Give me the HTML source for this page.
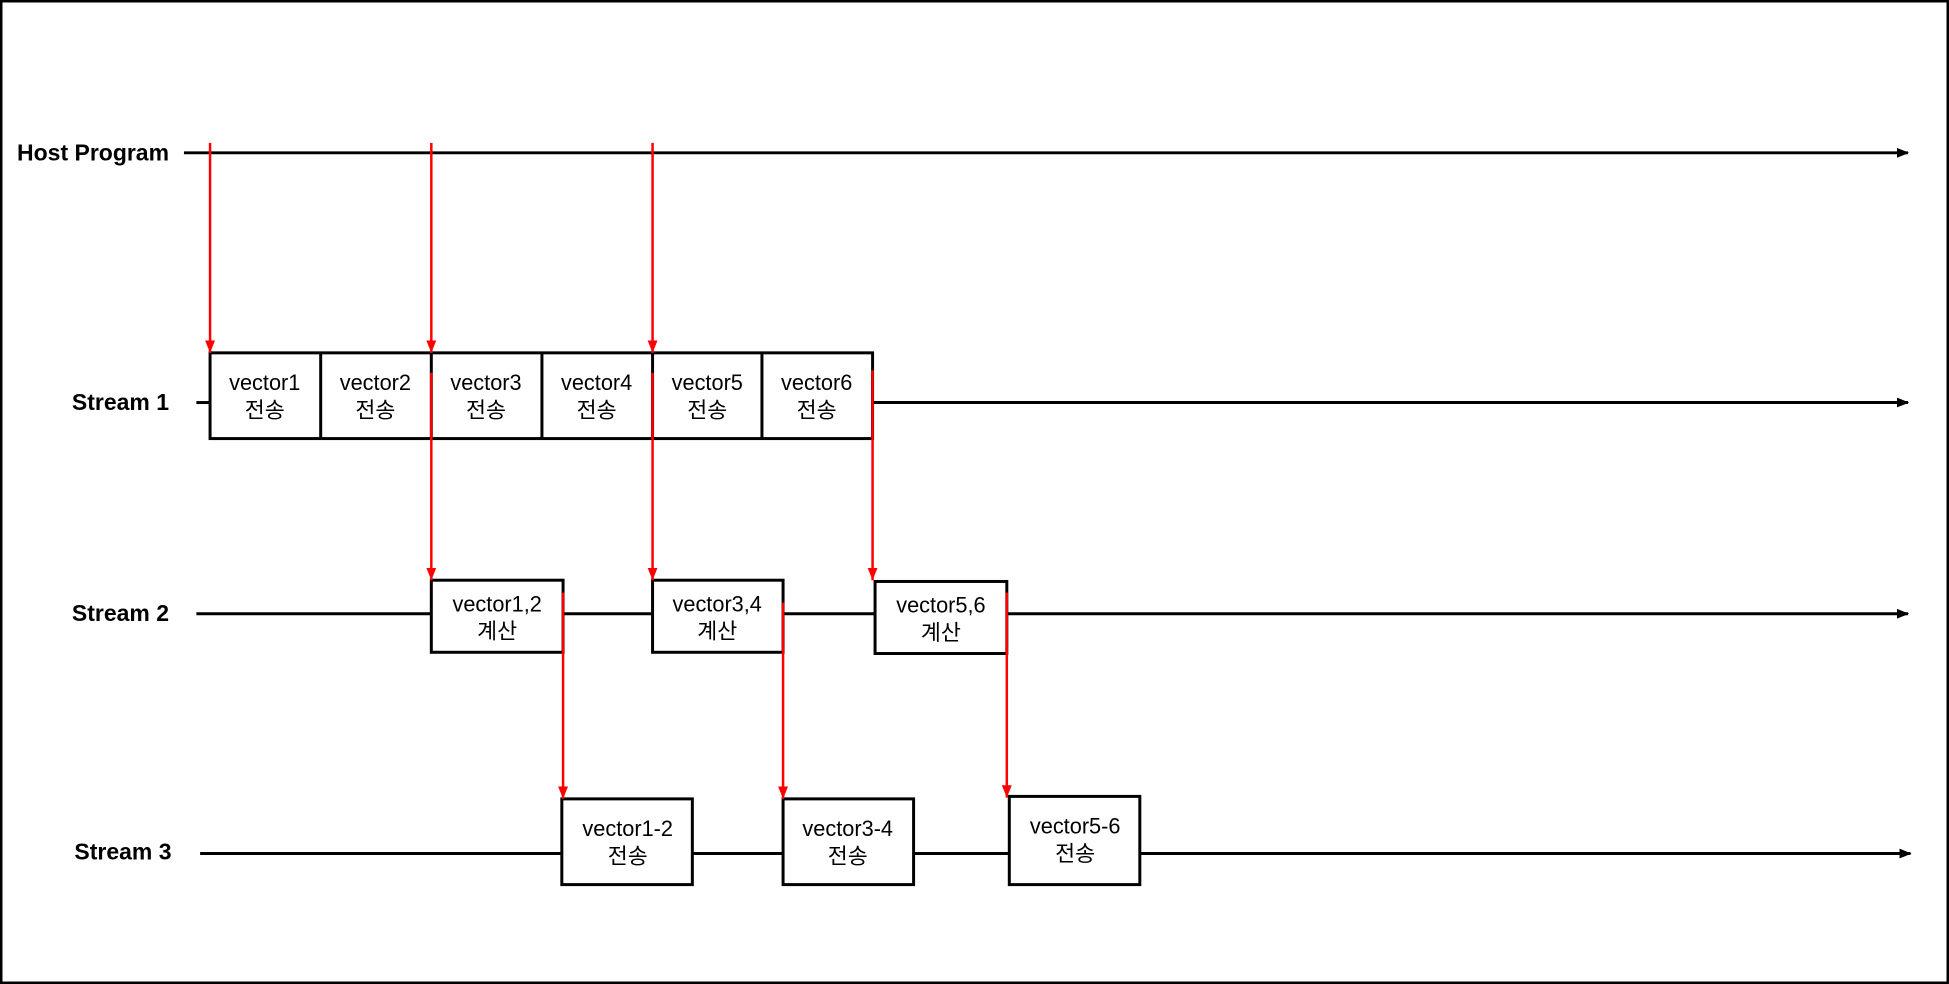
<!DOCTYPE html>
<html><head><meta charset="utf-8"><style>
html,body{margin:0;padding:0;background:#fff;}
svg{display:block;}
text{font-family:"Liberation Sans","Noto Sans CJK KR",sans-serif;}
</style></head><body>
<svg width="1949" height="984" viewBox="0 0 1568 792" preserveAspectRatio="none" xmlns="http://www.w3.org/2000/svg">
<defs>
<marker id="ab" markerWidth="10" markerHeight="8" refX="9" refY="4" orient="auto" markerUnits="userSpaceOnUse"><path d="M0,0 L10,4 L0,8 z" fill="#000"/></marker>
<marker id="ar" markerWidth="10" markerHeight="10" refX="4" refY="10" orient="0" markerUnits="userSpaceOnUse"><path d="M0,0 L8,0 L4,10 z" fill="#f00"/></marker>
</defs>
<rect x="1" y="1" width="1566" height="790" fill="#fff" stroke="#000" stroke-width="2"/>
<g font-weight="bold" font-size="18.5" fill="#000" text-anchor="end">
<text x="136" y="129">Host Program</text>
<text x="136" y="330">Stream 1</text>
<text x="136" y="500">Stream 2</text>
<text x="138" y="692">Stream 3</text>
</g>
<g stroke="#000" stroke-width="2.4" fill="none">
<line x1="148" y1="123" x2="1535" y2="123" marker-end="url(#ab)"/>
<line x1="158" y1="324" x2="169" y2="324"/>
<line x1="702" y1="324" x2="1535" y2="324" marker-end="url(#ab)"/>
<line x1="158" y1="494" x2="1535" y2="494" marker-end="url(#ab)"/>
<line x1="161" y1="687" x2="1537" y2="687" marker-end="url(#ab)"/>
</g>
<g stroke="#000" stroke-width="2.4" fill="#fff">
<rect x="169" y="284" width="533" height="69"/>
<line x1="258" y1="284" x2="258" y2="353"/>
<line x1="347" y1="284" x2="347" y2="353"/>
<line x1="436" y1="284" x2="436" y2="353"/>
<line x1="525" y1="284" x2="525" y2="353"/>
<line x1="613" y1="284" x2="613" y2="353"/>
<rect x="347" y="467" width="106" height="58"/>
<rect x="525" y="467" width="105" height="58"/>
<rect x="704" y="468" width="106" height="58"/>
<rect x="452" y="643" width="105" height="69"/>
<rect x="630" y="643" width="105" height="69"/>
<rect x="812" y="641" width="105" height="71"/>
</g>
<g stroke="#f00" stroke-width="2" fill="none">
<line x1="169" y1="115" x2="169" y2="284" marker-end="url(#ar)"/>
<line x1="347" y1="115" x2="347" y2="284" marker-end="url(#ar)"/>
<line x1="525" y1="115" x2="525" y2="284" marker-end="url(#ar)"/>
<line x1="347" y1="300" x2="347" y2="467" marker-end="url(#ar)"/>
<line x1="525" y1="300" x2="525" y2="467" marker-end="url(#ar)"/>
<line x1="702" y1="298" x2="702" y2="467" marker-end="url(#ar)"/>
<line x1="453" y1="477" x2="453" y2="643" marker-end="url(#ar)"/>
<line x1="630" y1="485" x2="630" y2="643" marker-end="url(#ar)"/>
<line x1="810" y1="477" x2="810" y2="642" marker-end="url(#ar)"/>
</g>
<g font-size="17.5" fill="#000" text-anchor="middle">
<text x="213" y="314">vector1</text><text x="213" y="336">전송</text>
<text x="302" y="314">vector2</text><text x="302" y="336">전송</text>
<text x="391" y="314">vector3</text><text x="391" y="336">전송</text>
<text x="480" y="314">vector4</text><text x="480" y="336">전송</text>
<text x="569" y="314">vector5</text><text x="569" y="336">전송</text>
<text x="657" y="314">vector6</text><text x="657" y="336">전송</text>
<text x="400" y="492">vector1,2</text><text x="400" y="514">계산</text>
<text x="577" y="492">vector3,4</text><text x="577" y="514">계산</text>
<text x="757" y="493">vector5,6</text><text x="757" y="515">계산</text>
<text x="505" y="673">vector1-2</text><text x="505" y="695">전송</text>
<text x="682" y="673">vector3-4</text><text x="682" y="695">전송</text>
<text x="865" y="671">vector5-6</text><text x="865" y="693">전송</text>
</g>
</svg>
</body></html>
